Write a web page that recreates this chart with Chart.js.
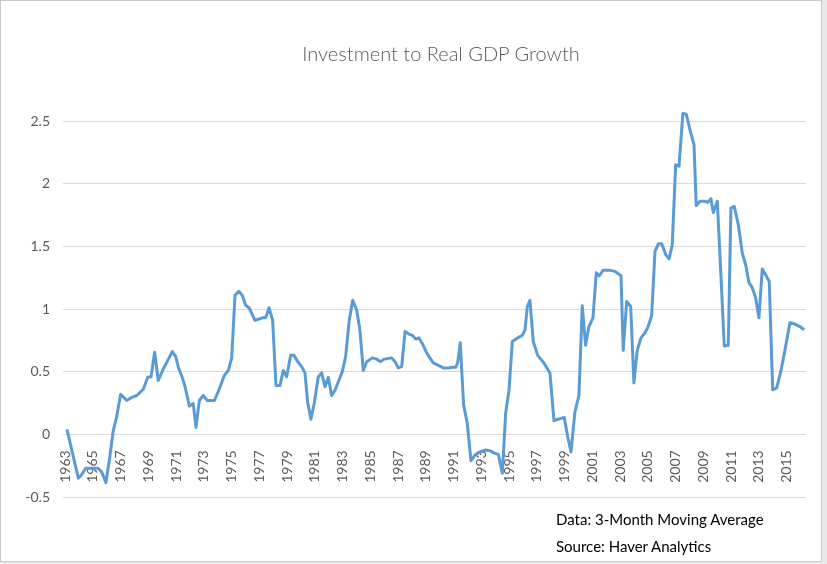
<!DOCTYPE html>
<html>
<head>
<meta charset="utf-8">
<script src="https://cdn.jsdelivr.net/npm/chart.js@4"></script>
<style>
  html, body { margin: 0; padding: 0; background: #e9e9e9; }
  #frame {
    position: absolute; left: 0; top: 0;
    width: 822px; height: 562px;
    box-sizing: border-box;
    border: 1px solid #c9c9c9;
    background: #fff;
  }
  #myChart { position: absolute; left: -1px; top: -1px; }
  .txt { position: absolute; font-family: Lato, "Open Sans", sans-serif; white-space: nowrap; }
  #title { left: 240px; width: 400px; top: 40px; text-align: center; font-size: 20px; line-height: 24px; font-weight: 300; color: #595959; }
  .note { left: 555px; font-size: 15px; line-height: 20px; color: #000; }
</style>
</head>
<body>
<div id="frame">
  <canvas id="myChart" width="822" height="562"></canvas>
  <div class="txt" id="title">Investment to Real GDP Growth</div>
  <div class="txt note" style="top:508px">Data: 3-Month Moving Average</div>
  <div class="txt note" style="top:535px">Source: Haver Analytics</div>
</div>
<script>
// values (decimal year, ratio)
const years = [
  1963.14, 1963.96, 1964.15, 1964.49, 1964.92, 1965.36, 1965.64, 1965.95, 1966.19, 1966.48,
  1966.72, 1967.01, 1967.45, 1967.81, 1968.17, 1968.64, 1968.96, 1969.20, 1969.46, 1969.72,
  1970.08, 1970.73, 1970.98, 1971.18, 1971.43, 1971.65, 1971.96, 1972.24, 1972.44, 1972.68,
  1972.96, 1973.25, 1973.76, 1974.04, 1974.48, 1974.77, 1975.01, 1975.25, 1975.54, 1975.77,
  1976.02, 1976.26, 1976.69, 1976.98, 1977.21, 1977.46, 1977.70, 1977.96, 1978.20, 1978.49,
  1978.73, 1978.97, 1979.26, 1979.50, 1979.77, 1980.05, 1980.29, 1980.49, 1980.72, 1980.96,
  1981.25, 1981.49, 1981.73, 1981.97, 1982.21, 1982.45, 1982.98, 1983.22, 1983.48, 1983.73,
  1984.02, 1984.25, 1984.49, 1984.74, 1985.14, 1985.46, 1985.74, 1986.00, 1986.54, 1986.78,
  1987.01, 1987.26, 1987.50, 1987.78, 1988.02, 1988.27, 1988.50, 1988.81, 1989.06, 1989.53,
  1989.90, 1990.26, 1990.62, 1990.90, 1991.15, 1991.29, 1991.48, 1991.72, 1991.98, 1992.25,
  1992.54, 1992.90, 1993.31, 1993.62, 1993.93, 1994.22, 1994.51, 1994.75, 1994.99, 1995.23,
  1995.62, 1995.95, 1996.14, 1996.31, 1996.50, 1996.74, 1997.06, 1997.50, 1997.94, 1998.23,
  1998.54, 1998.97, 1999.22, 1999.46, 1999.74, 2000.03, 2000.27, 2000.51, 2000.75, 2001.04,
  2001.28, 2001.49, 2001.78, 2002.19, 2002.63, 2003.06, 2003.22, 2003.47, 2003.76, 2003.99,
  2004.23, 2004.50, 2004.79, 2005.02, 2005.27, 2005.51, 2005.75, 2005.99, 2006.30, 2006.52,
  2006.75, 2007.00, 2007.24, 2007.52, 2007.76, 2008.03, 2008.32, 2008.48, 2008.75, 2009.11,
  2009.30, 2009.54, 2009.71, 2010.00, 2010.26, 2010.50, 2010.79, 2010.98, 2011.22, 2011.51,
  2011.80, 2012.04, 2012.28, 2012.52, 2012.76, 2013.00, 2013.24, 2013.50, 2013.74, 2013.99,
  2014.28, 2014.59, 2014.87, 2015.23, 2015.59, 2015.95, 2016.26
]
const ratio = [
  0.04, -0.35, -0.33, -0.27, -0.27, -0.27, -0.30, -0.385, -0.21, 0.03,
  0.14, 0.32, 0.27, 0.295, 0.31, 0.36, 0.455, 0.46, 0.655, 0.43,
  0.52, 0.66, 0.62, 0.53, 0.46, 0.38, 0.225, 0.245, 0.055, 0.27,
  0.31, 0.27, 0.27, 0.34, 0.47, 0.51, 0.61, 1.11, 1.14, 1.11,
  1.03, 1.01, 0.91, 0.92, 0.93, 0.93, 1.01, 0.91, 0.39, 0.39,
  0.51, 0.46, 0.63, 0.63, 0.58, 0.54, 0.49, 0.25, 0.12, 0.25,
  0.46, 0.49, 0.38, 0.455, 0.31, 0.35, 0.50, 0.62, 0.91, 1.07,
  0.99, 0.83, 0.51, 0.58, 0.61, 0.60, 0.58, 0.60, 0.61, 0.58,
  0.53, 0.54, 0.82, 0.80, 0.79, 0.76, 0.77, 0.71, 0.65, 0.57,
  0.55, 0.53, 0.53, 0.535, 0.535, 0.57, 0.73, 0.235, 0.09, -0.21,
  -0.165, -0.14, -0.125, -0.13, -0.15, -0.16, -0.31, 0.17, 0.35, 0.74,
  0.77, 0.79, 0.83, 1.02, 1.07, 0.74, 0.63, 0.57, 0.49, 0.11,
  0.12, 0.135, -0.02, -0.14, 0.18, 0.31, 1.025, 0.71, 0.86, 0.93,
  1.29, 1.265, 1.31, 1.31, 1.30, 1.265, 0.67, 1.06, 1.02, 0.41,
  0.67, 0.77, 0.81, 0.86, 0.95, 1.46, 1.52, 1.52, 1.43, 1.40,
  1.51, 2.15, 2.14, 2.56, 2.555, 2.43, 2.31, 1.825, 1.86, 1.86,
  1.85, 1.88, 1.77, 1.86, 1.27, 0.705, 0.71, 1.805, 1.82, 1.675,
  1.445, 1.355, 1.21, 1.17, 1.09, 0.93, 1.32, 1.27, 1.22, 0.355,
  0.37, 0.51, 0.67, 0.89, 0.88, 0.86, 0.835
]
const tickYears = [1963, 1965, 1967, 1969, 1971, 1973, 1975, 1977, 1979, 1981, 1983,
  1985, 1987, 1989, 1991, 1993, 1995, 1997, 1999, 2001, 2003, 2005, 2007, 2009,
  2011, 2013, 2015]

const tickFont = { family: 'Lato, "Open Sans", sans-serif', size: 14 }
const ctx = document.getElementById('myChart')

new Chart(ctx, {
  type: 'line',
  data: {
    datasets: [{
      data: years.map((yr, i) => ({ x: yr, y: ratio[i] })),
      borderColor: '#5b9bd5',
      borderWidth: 3,
      borderJoinStyle: 'round',
      pointRadius: 0,
      tension: 0,
      fill: false,
      clip: false
    }]
  },
  options: {
    responsive: false,
    animation: false,
    layout: { padding: { left: 0, right: 16, top: 121, bottom: 65 } },
    plugins: { legend: { display: false }, tooltip: { enabled: false } },
    scales: {
      x: {
        type: 'linear',
        position: { y: 0 },
        min: 1962.856,
        max: 2016.39,
        grid: { display: false },
        border: { display: false },
        afterBuildTicks: (s) => { s.ticks = tickYears.map(v => ({ value: v })) },
        ticks: {
          autoSkip: false,
          minRotation: 90,
          maxRotation: 90,
          padding: 8,
          color: '#595959',
          font: tickFont,
          callback: (v) => String(v)
        }
      },
      y: {
        min: -0.5,
        max: 2.5,
        afterFit: (s) => { s.width = 63 },
        grid: { color: '#d9d9d9', drawTicks: false },
        border: { display: false },
        ticks: {
          stepSize: 0.5,
          padding: 13,
          color: '#595959',
          font: tickFont,
          callback: (v) => String(v)
        }
      }
    }
  }
})
</script>
</body>
</html>
